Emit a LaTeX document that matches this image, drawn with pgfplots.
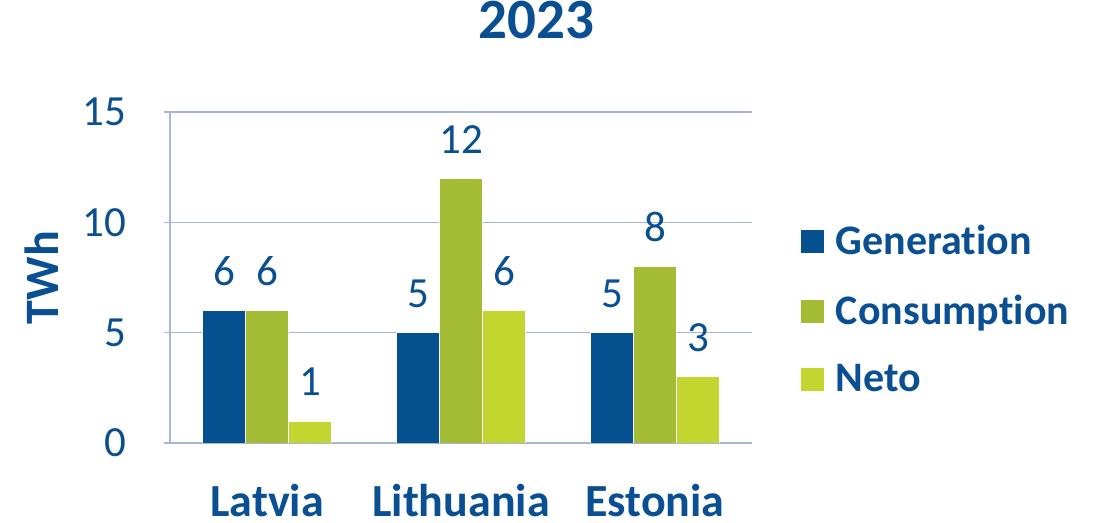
\documentclass[border=0pt]{standalone}
\usepackage{fontspec}
\setmainfont[Ligatures=NoCommon]{Carlito}
\usepackage{pgfplots}
\pgfplotsset{compat=1.18}
\definecolor{txtblue}{HTML}{0A4F92}
\definecolor{genblue}{HTML}{05508F}
\definecolor{consgreen}{HTML}{A3BC33}
\definecolor{netogreen}{HTML}{C3D62F}
\definecolor{gridc}{HTML}{A8B5D5}
\newcommand{\fs}[1]{\fontsize{#1}{#1}\selectfont}
\begin{document}
\begin{tikzpicture}
\begin{axis}[
  scale only axis,
  width=291pt, height=165.5pt,
  ybar=0pt, bar width=21.5pt,
  xmin=-0.5, xmax=2.5,
  ymin=0, ymax=15,
  ytick={0,5,10,15},
  xtick=data,
  xticklabels={Latvia,Lithuania,Estonia},
  axis x line*=bottom, axis y line*=left,
  axis line style={draw=gridc, line width=0.8pt},
  ymajorgrids, grid style={draw=gridc, line width=0.8pt},
  tick align=outside,
  xtick style={draw=none},
  ytick style={draw=gridc, line width=0.8pt},
  major tick length=3pt,
  /pgf/number format/assume math mode=true,
  ticklabel style={text=txtblue},
  yticklabel style={font=\fs{21.5}, anchor=east, xshift=-15.5pt},
  xticklabel style={font=\bfseries\fs{23}, anchor=base, inner sep=0pt, yshift=-34pt},
  ylabel={TWh},
  ylabel style={font=\bfseries\fs{24}, text=txtblue, at={(axis description cs:-0.22,0.5)}, anchor=center},
  title={2023},
  title style={font=\bfseries\fs{28.5}, text=txtblue, at={(axis description cs:0.63,1.187)}, anchor=base},
  nodes near coords,
  every node near coord/.append style={font=\fs{21.5}, text=txtblue, anchor=base, yshift=12.5pt},
  legend style={at={(axis description cs:1.072,0.402)}, anchor=west, draw=none, fill=none,
    font=\bfseries\fs{21}, text=txtblue, row sep=14.5pt, column sep=3.5pt,
    nodes={inner sep=2pt}},
  legend cell align=left,
  legend image code/.code={\fill[#1] (0pt,-6pt) rectangle (12pt,6pt);},
]
\addplot[fill=genblue, draw=white, line width=0.3pt] coordinates {(0,6) (1,5) (2,5)};
\addplot[fill=consgreen, draw=white, line width=0.3pt] coordinates {(0,6) (1,12) (2,8)};
\addplot[fill=netogreen, draw=white, line width=0.3pt] coordinates {(0,1) (1,6) (2,3)};
\legend{Generation,Consumption,Neto}
\end{axis}
\pgfresetboundingbox
\useasboundingbox (-85pt,-40pt) rectangle (462pt,221.5pt);
\end{tikzpicture}
\end{document}
